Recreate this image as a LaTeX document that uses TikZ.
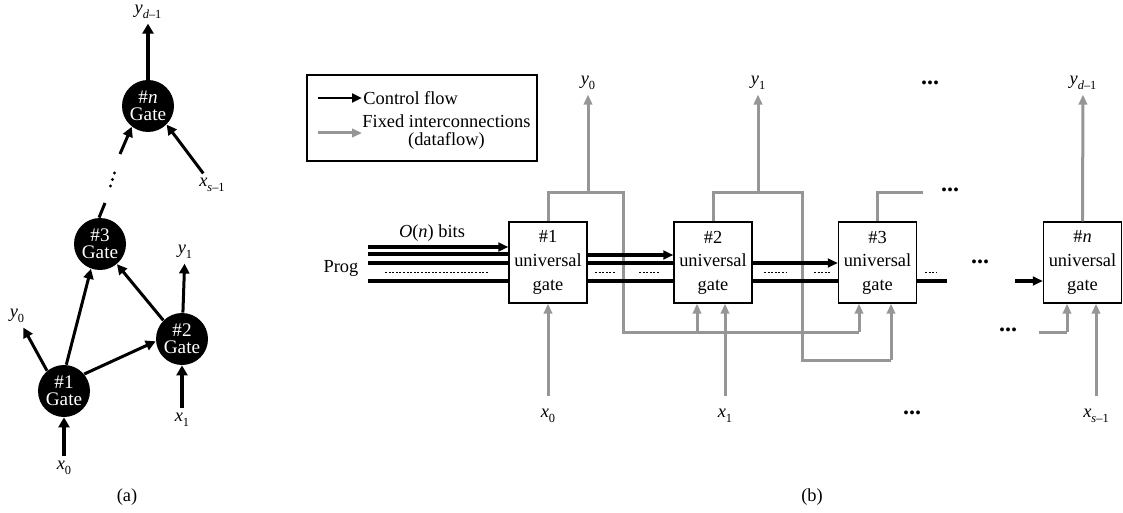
\documentclass[tikz,border=0pt]{standalone}
\usepackage{fontspec}
\setmainfont{Liberation Serif}
\usetikzlibrary{arrows.meta,calc}
\definecolor{wirec}{RGB}{150,150,150}
\newcommand\subx[1]{\raisebox{-0.55ex}{\fontsize{6.2}{6.2}\selectfont #1}}
\begin{document}
\begin{tikzpicture}[x=0.5pt,y=-0.5pt,
  font=\fontsize{9.2}{11}\selectfont,
  gate/.style={circle,fill=black,minimum size=26pt,inner sep=0pt,text=white,align=center,font=\fontsize{9.6}{8.6}\selectfont},
  lab/.style={inner sep=0pt,outer sep=2.5pt},
  aarr/.style={line width=1.5pt,-{Triangle[length=5pt,width=5pt]}},
  athick/.style={line width=2.1pt,-{Triangle[length=5pt,width=5.5pt]}},
  aline/.style={line width=1.5pt},
  ubox/.style={draw,line width=0.7pt,minimum width=39pt,minimum height=40.5pt,inner sep=0pt,align=center,font=\fontsize{9.2}{11.8}\selectfont},
  wire/.style={draw=wirec,line width=1.5pt},
  warrow/.style={draw=wirec,line width=1.5pt,-{Triangle[length=5pt,width=4.2pt]},fill=wirec},
  bus/.style={line width=1.7pt},
  barrow/.style={line width=1.7pt,-{Triangle[length=5pt,width=4.4pt]}},
  dotl/.style={line width=0.4pt,dash pattern=on 1pt off 0.8pt},
  dotsym/.style={inner sep=0pt,font=\bfseries\fontsize{12}{12}\selectfont},
]
\useasboundingbox (0,0) rectangle (1123,513);

% ---------------- (a) ----------------
\node[gate] (gn) at (148,106) {\#\textit{n}\\Gate};
\node[gate] (g3) at (100,244) {\#3\\Gate};
\node[gate] (g2) at (182,339) {\#2\\Gate};
\node[gate] (g1) at (64,391) {\#1\\Gate};

\node[lab] (ayd) at (148,12) {\textit{y}\subx{\textit{d}–1}};
\node[lab] (axs) at (212,185) {\textit{x}\subx{\textit{s}–1}};
\node[lab] (ay0) at (17,316) {\textit{y}\subx{0}};
\node[lab] (ay1) at (185,252) {\textit{y}\subx{1}};
\node[lab] (ax0) at (64,468) {\textit{x}\subx{0}};
\node[lab] (ax1) at (182,420) {\textit{x}\subx{1}};
\node (capa) at (127,497) {(a)};

\draw[aarr] (g1.40) -- (g2.185);
\draw[aarr] (g1.85) -- (g3.-110);
\draw[aarr] (g2.135) -- (g3.-50);
\draw[aarr] (g1.130) -- (ay0);
\draw[aarr] (g2) -- (ay1);
\draw[athick] (ax0) -- (g1);
\draw[athick] (ax1) -- (g2);
\draw[athick] (gn) -- (ayd);
\draw[aarr] (axs) -- (gn.-45);
\coordinate (c3) at (105,203);
\coordinate (c4) at (120,154);
\draw[aline] (g3.92) -- (c3);
\fill (110.5,186) circle (1.7) (112.5,179.5) circle (1.7) (114.5,173) circle (1.7);
\draw[aarr] (c4) -- (gn.-128);

% ---------------- (b) ----------------
% legend
\node[draw,line width=0.7pt,minimum width=115pt,minimum height=43pt,inner sep=0pt] (leg) at (422,118) {};
\node[anchor=west,inner sep=0.5pt] (lt1) at (362,98) {Control flow};
\node[anchor=north west,inner sep=0.5pt,align=center,font=\fontsize{9.2}{9.4}\selectfont] (lt2) at (361,113) {Fixed interconnections\\(dataflow)};
\coordinate (lc1) at (318,98);
\coordinate (lg1) at (318,133);
\coordinate (lg2) at (362,133);
\draw[barrow,line width=1.4pt] (lc1) -- (lt1.west);
\draw[warrow] (lg1) -- (lg2);

% gate boxes
\node[ubox] (b1) at (548,262.5) {\#1\\universal\\gate};
\node[ubox] (b2) at (713,262.5) {\#2\\universal\\gate};
\node[ubox] (b3) at (877.5,262.5) {\#3\\universal\\gate};
\node[ubox] (bn) at (1082.5,262.5) {\#\textit{n}\\universal\\gate};

% output / input labels
\node[lab] (by0) at (588,83) {\textit{y}\subx{0}};
\node[lab] (by1) at (758,83) {\textit{y}\subx{1}};
\node[lab] (byd) at (1083,83) {\textit{y}\subx{\textit{d}–1}};
\node[lab] (bx0) at (548,416) {\textit{x}\subx{0}};
\node[lab] (bx1) at (725,416) {\textit{x}\subx{1}};
\node[lab] (bxs) at (1096,416) {\textit{x}\subx{\textit{s}–1}};
\node (capb) at (812,497) {(b)};

% dots
\node[dotsym] (dt1) at (930,83) {...};
\node[dotsym] (dt2) at (950,190) {...};
\node[dotsym] (dt3) at (980,262) {...};
\node[dotsym] (dt4) at (1008,330) {...};
\node[dotsym] (dt5) at (912,413) {...};

% gray wiring
\coordinate (o1) at (588,193);
\coordinate (t1) at (623,193);
\coordinate (h1) at (623,332);
\coordinate (in2a) at (697,332);
\coordinate (in3a) at (859,332);
\draw[wire] (b1.north) |- (t1) -- (h1) -- (in3a);
\draw[warrow] (o1) -- (by0);
\draw[warrow] (in2a) -- (in2a |- b2.south);
\draw[warrow] (in3a) -- (in3a |- b3.south);

\coordinate (o2) at (758,193);
\coordinate (t2) at (802,193);
\coordinate (h2) at (802,360);
\coordinate (in3b) at (891,360);
\draw[wire] (b2.north) |- (t2) -- (h2) -- (in3b);
\draw[warrow] (o2) -- (by1);
\draw[warrow] (in3b) -- (in3b |- b3.south);

\coordinate (t3) at (923,193);
\draw[wire] (b3.north) |- (t3);

\draw[warrow] (bn.north) -- (byd);
\coordinate (hn) at (1039,332);
\coordinate (inna) at (1067,332);
\draw[wire] (hn) -- (inna);
\draw[warrow] (inna) -- (inna |- bn.south);

\draw[warrow,shorten <=4pt] (bx0) -- (bx0 |- b1.south);
\draw[warrow,shorten <=4pt] (bx1) -- (bx1 |- b2.south);
\draw[warrow,shorten <=4pt] (bxs) -- (bxs |- bn.south);

% control (black) lines
\node (prog) at (341,268) {Prog};
\node (onb) at (432,233) {\textit{O}(\textit{n}) bits};
\coordinate (pa) at (368,247);
\coordinate (pb) at (368,254);
\coordinate (pc) at (368,263);
\coordinate (pd) at (368,281);
\draw[barrow] (pa) -- (pa -| b1.west);
\draw[bus] (pb) -- (pb -| b1.west);
\draw[bus] (pc) -- (pc -| b1.west);
\draw[bus] (pd) -- (pd -| b1.west);
\draw[dotl] (385,272) -- (488,272);

\draw[barrow] (b1.east |- 0,255) -- (b2.west |- 0,255);
\draw[bus] (b1.east |- 0,263) -- (b2.west |- 0,263);
\draw[bus] (b1.east |- 0,281) -- (b2.west |- 0,281);
\draw[dotl] (595,272) -- (615,272);
\draw[dotl] (639,272) -- (660,272);

\draw[barrow] (b2.east |- 0,263) -- (b3.west |- 0,263);
\draw[bus] (b2.east |- 0,281) -- (b3.west |- 0,281);
\draw[dotl] (764,272) -- (787,272);
\draw[dotl] (814,272) -- (830,272);

\coordinate (e3) at (947,281);
\draw[bus] (b3.east |- e3) -- (e3);
\draw[dotl] (925,272) -- (937,272);
\coordinate (an) at (1015,281);
\draw[barrow] (an) -- (an -| bn.west);
\end{tikzpicture}
\end{document}
